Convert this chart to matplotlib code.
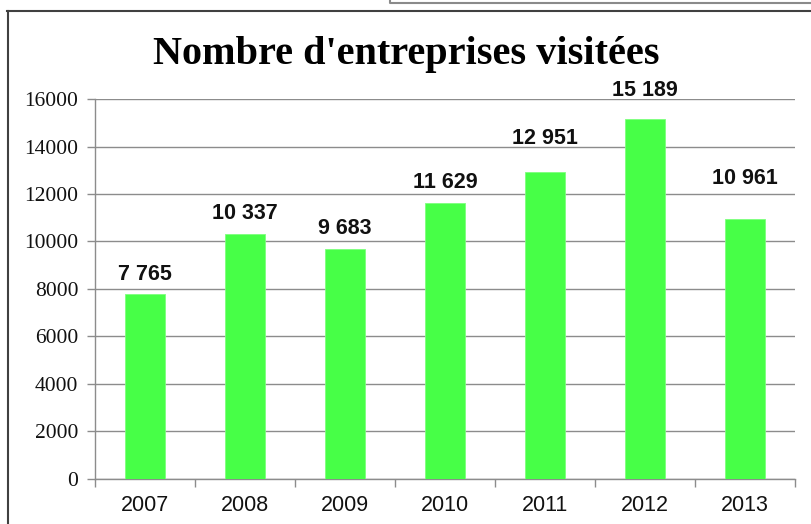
import matplotlib
matplotlib.use("Agg")
import matplotlib.pyplot as plt
from matplotlib.lines import Line2D

years = ["2007", "2008", "2009", "2010", "2011", "2012", "2013"]
visits = [7765, 10337, 9683, 11629, 12951, 15189, 10961]
label_texts = ["7 765", "10 337", "9 683", "11 629", "12 951", "15 189", "10 961"]
yticks = [0, 2000, 4000, 6000, 8000, 10000, 12000, 14000, 16000]
title = "Nombre d'entreprises visitées"

# label gap above each bar (pixels), as placed in the original
label_gap_px = [14, 15, 15, 15, 28, 23, 35]

W, H = 812, 524
fig = plt.figure(figsize=(W / 100, H / 100), dpi=100)
fig.patch.set_facecolor("white")

ax = fig.add_axes([95 / W, (H - 478.5) / H, 700 / W, 379.2 / H])
x = list(range(len(years)))
bar_color = "#47FF47"
ax.bar(x, visits, width=0.4, color=bar_color, edgecolor="#7dff7d", linewidth=0.6, zorder=3)

ax.set_xlim(-0.5, len(years) - 0.5)
ax.set_ylim(0, 16000)
ax.set_yticks(yticks)
ax.set_yticklabels([str(v) for v in yticks], family="Liberation Serif", fontsize=15.5, color="#111111")
ax.yaxis.grid(True, color="#8c8c8c", linewidth=1.0, zorder=0)
ax.set_axisbelow(True)

# x ticks at category boundaries, labels at centers
ax.set_xticks([i - 0.5 for i in range(len(years) + 1)])
ax.set_xticklabels([])
ax.set_xticks(x, minor=True)
ax.set_xticklabels(years, minor=True, family="Liberation Sans", fontsize=15.5, color="#111111")
ax.tick_params(axis="x", which="major", length=6, width=1, color="#8c8c8c", direction="out")
ax.tick_params(axis="x", which="minor", length=0, pad=12)
ax.tick_params(axis="y", length=6, width=1, color="#8c8c8c", direction="out", pad=6)

for s in ["top", "right"]:
    ax.spines[s].set_visible(False)
for s in ["left", "bottom"]:
    ax.spines[s].set_color("#8c8c8c")
    ax.spines[s].set_linewidth(1.0)

for xi, v, t, g in zip(x, visits, label_texts, label_gap_px):
    ax.annotate(t, (xi, v), xytext=(0, g * 0.72), textcoords="offset points",
                ha="center", va="baseline", fontsize=15.5, fontweight="bold",
                family="Liberation Sans", color="#111111")

fig.text(0.5, (H - 64) / H, title, ha="center", va="baseline",
         family="Liberation Serif", fontweight="bold", fontsize=29, color="black")

# outer frame lines
fig.add_artist(Line2D([7.5 / W, 7.5 / W], [0, (H - 10.5) / H], color="#404040", linewidth=1.5, transform=fig.transFigure))
fig.add_artist(Line2D([6.5 / W, 1.0], [(H - 10.5) / H, (H - 10.5) / H], color="#404040", linewidth=1.5, transform=fig.transFigure))
# gray box at top right
fig.add_artist(Line2D([390.5 / W, 390.5 / W, 1.0], [1.0, (H - 3) / H, (H - 3) / H], color="#8a8a8a", linewidth=1.5, transform=fig.transFigure))

fig.savefig("out.png", dpi=100, facecolor="white")
